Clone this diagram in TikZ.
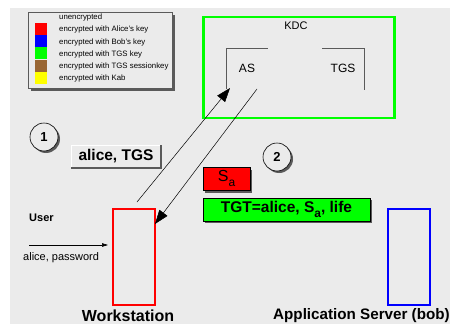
\documentclass[tikz,border=0pt]{standalone}
\usepackage{fontspec}
\setmainfont{Liberation Sans}
\usetikzlibrary{arrows.meta}
\definecolor{bg}{RGB}{235,235,235}
\definecolor{dropgray}{RGB}{90,90,90}
\definecolor{keyred}{RGB}{255,0,0}
\definecolor{keyblue}{RGB}{0,0,255}
\definecolor{keygreen}{RGB}{0,255,0}
\definecolor{keybrown}{RGB}{153,102,51}
\definecolor{keyyellow}{RGB}{255,255,0}
\tikzset{
  legendtext/.style={anchor=west, inner sep=0pt, font=\fontsize{7.8}{8}\selectfont},
  swatch/.style={minimum width=12, minimum height=12, inner sep=0pt, draw=none},
  hostbox/.style={draw, line width=2pt, minimum width=42, minimum height=96, inner sep=0pt},
  msgbox/.style={draw=black, line width=0.6pt, inner sep=0pt, font=\fontsize{15.5}{16}\bfseries},
  numcircle/.style={circle, draw, line width=0.6pt, fill=bg, minimum size=28, inner sep=0pt, font=\fontsize{13}{13}\bfseries},
  flow/.style={line width=0.5pt, -{Triangle[length=14pt, width=10pt]}},
  txt/.style={inner sep=0pt},
}
\newcommand{\suba}{\raisebox{-4.5pt}{\fontsize{12}{12}\selectfont a}}
\begin{document}
\begin{tikzpicture}[x=1pt, y=-1pt]
\useasboundingbox (0,0) rectangle (450,324);
\fill[white] (0,0) rectangle (450,324);
\fill[bg] (10,8) rectangle (450,324);

% legend of key colours
\fill[dropgray] (30.5,14.5) rectangle (174.5,90.5);
\filldraw[fill=bg, draw=dropgray, line width=0.8pt] (28,12) rectangle (172,88);
\node[swatch, fill=keyred]    (kred)    at (41,29) {};
\node[swatch, fill=keyblue]   (kblue)   at (41,41) {};
\node[swatch, fill=keygreen]  (kgreen)  at (41,53) {};
\node[swatch, fill=keybrown]  (kbrown)  at (41,66) {};
\node[swatch, fill=keyyellow] (kyellow) at (41,78) {};
\node[legendtext] (t0) at (59,17) {unencrypted};
\node[legendtext] (t1) at (59,29.5) {encrypted with Alice's key};
\node[legendtext] (t2) at (59,42) {encrypted with Bob's key};
\node[legendtext] (t3) at (59,54) {encrypted with TGS key};
\node[legendtext] (t4) at (59,66) {encrypted with TGS sessionkey};
\node[legendtext] (t5) at (59,78) {encrypted with Kab};

% key distribution centre
\node[draw=keygreen, line width=2.5pt, minimum width=191, minimum height=101, inner sep=0pt] (kdc) at (299,67.5) {};
\node[txt, font=\fontsize{11}{11}\selectfont] (kdclbl) at (296,26) {KDC};
\draw[dropgray, line width=0.9pt] (226,89) -- (226,48) -- (268,48);
\draw[dropgray, line width=0.9pt] (322,48) -- (364,48) -- (364,90);
\node[txt, font=\fontsize{12}{12}\selectfont] (as) at (247,68) {AS};
\node[txt, font=\fontsize{12}{12}\selectfont] (tgs) at (343,68) {TGS};

% hosts
\node[hostbox, draw=keyred] (ws) at (133.5,257) {};
\node[hostbox, draw=keyblue] (app) at (409,257) {};
\node[txt, font=\fontsize{16}{16}\bfseries] (wslbl) at (128,316) {Workstation};
\node[txt, anchor=west, font=\fontsize{15.2}{16}\bfseries] (applbl) at (273,316) {Application Server (bob)};

% user input
\node[txt, anchor=west, font=\fontsize{11}{11}\bfseries] (user) at (29,218) {User};
\coordinate (inS) at (29,245);
\coordinate (inE) at (108,245);
\draw[line width=0.6pt, -{Triangle[length=6pt, width=3.5pt]}] (inS) -- (inE);
\node[txt, anchor=west, font=\fontsize{11}{11}\selectfont] (pw) at (23,257.5) {alice, password};

% step 1
\fill[dropgray] (46,139) circle (14);
\node[numcircle] (one) at (44,137) {1};
\draw[white, line width=1pt] (71,168) -- (71,145) -- (161,145);
\draw[dropgray, line width=1.2pt] (71,168) -- (161,168) -- (161,145);
\node[txt, font=\fontsize{15.5}{16}\bfseries] (req) at (116,156.5) {alice, TGS};

% step 2
\fill[dropgray] (279,159) circle (14);
\node[numcircle] (two) at (277,157) {2};
\fill[dropgray] (205,170) rectangle (252,193);
\node[msgbox, fill=keyred, minimum width=47, minimum height=23, font=\fontsize{16}{16}\selectfont] (sa) at (226.5,178.5) {S\suba};
\fill[dropgray] (205,200) rectangle (372,223);
\node[msgbox, fill=keygreen, minimum width=167, minimum height=23] (tgt) at (286.5,209.5) {TGT=alice, S\suba, life};

% message flows
\coordinate (r1s) at (137,202);
\coordinate (r1e) at (230,88);
\coordinate (r2s) at (257,89);
\coordinate (r2e) at (155,224);
\draw[flow] (r1s) -- (r1e);
\draw[flow] (r2s) -- (r2e);
\end{tikzpicture}
\end{document}
